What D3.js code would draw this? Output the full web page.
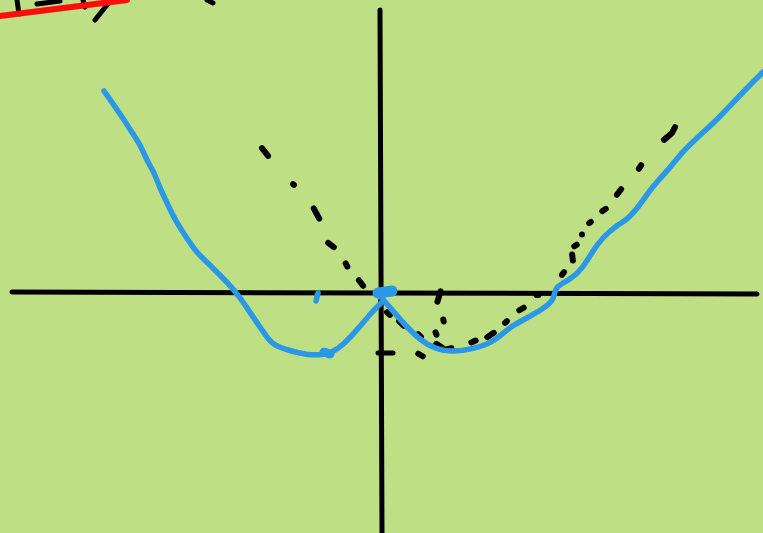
<!DOCTYPE html>
<html>
<head>
<meta charset="utf-8">
<script src="https://cdn.jsdelivr.net/npm/d3@7"></script>
<style>
  html, body { margin: 0; padding: 0; background: #bfdf85; }
  svg { display: block; }
</style>
</head>
<body>
<svg id="chart"></svg>
<script>
// values are offsets from the origin of the sketched axes (one tick = 60 units)
const xAxisEnds = [[-368, 0], [377, -2]];
const yAxisEnds = [[0, 282], [2, -241]];

const blueLeft = [[-276,201],[-257,174],[-247,158],[-239,146],[-234,133],[-226,120],[-221,106],[-212,87],[-205,72],[-190,49],[-183,39],[-168,25],[-153,10],[-140,-5],[-127,-25],[-112,-47],[-106,-53],[-93,-58],[-73,-63],[-57,-63],[-47,-60],[-37,-53],[-22,-37],[-10,-22],[2,-10]];
const blueRight = [[0,-4],[12,-18],[25,-33],[40,-48],[55,-57],[73,-60],[93,-57],[113,-50],[122,-42],[132,-34],[145,-27],[163,-17],[175,-7],[174,5],[190,12],[203,24],[212,40],[223,55],[237,67],[247,72],[260,87],[272,105],[290,124],[303,141],[320,157],[337,172],[362,199],[383,220]];
const blueMarks = [[[-62,-1],[-64,-9]], [[-56,-60],[-50,-62]]];
const blueBlob = [[-2,-1],[12,1]];

const dashes = [
  [[-119,145],[-111,135]], [[-88,109],[-85,106]], [[-67,85],[-60,72]], [[-53,50],[-45,44]],
  [[-35,30],[-32,24]], [[-22,13],[-16,5]], [[0,-8],[3,-10]], [[6,-19],[11,-24]],
  [[18,-28],[25,-35]], [[37,-41],[42,-46]], [[55,-51],[63,-56]], [[63,-58],[73,-56]],
  [[90,-51],[97,-48]], [[106,-46],[115,-40]], [[37,-61],[44,-65]], [[55,-39],[57,-44]], [[63,-26],[64,-31]],
  [[61,2],[57,-11]], [[124,-32],[128,-28]], [[138,-19],[145,-15]], [[155,-3],[160,-3]],
  [[181,16],[185,21]], [[192,39],[193,30]], [[193,45],[198,48]], [[202,56],[202,59]],
  [[208,68],[212,71]], [[221,80],[227,84]], [[236,96],[242,104]], [[258,122],[262,128]],
  [[283,151],[292,159],[296,166]]
];
const yTick = [[-2,-61],[13,-61]];

const redLine = [[-380,276],[-253,292]];
const topScraps = [
  [[-363,292],[-361,278]], [[-343,288],[-320,291]], [[-297,292],[-295,285]],
  [[-269,292],[-285,272]], [[-173,292],[-167,289]]
];

const width = 763, height = 533;

const x = d3.scaleLinear().domain([-380, 383]).range([0, width]);
const y = d3.scaleLinear().domain([292, -241]).range([0, height]);

const svg = d3.select('#chart').attr('width', width).attr('height', height);

svg.append('rect')
  .attr('width', width)
  .attr('height', height)
  .attr('fill', '#bfdf85');

// slight softening, the reference is an enlarged screenshot
svg.append('defs').append('filter')
  .attr('id', 'soft')
  .append('feGaussianBlur')
  .attr('stdDeviation', 0.7);

const chart = svg.append('g').attr('filter', 'url(#soft)');

const straight = d3.line().x(d => x(d[0])).y(d => y(d[1]));
const smooth = d3.line().x(d => x(d[0])).y(d => y(d[1])).curve(d3.curveBasis);

const stroke = (pts, color, w, gen = straight) =>
  chart.append('path')
    .attr('d', gen(pts))
    .attr('fill', 'none')
    .attr('stroke', color)
    .attr('stroke-width', w)
    .attr('stroke-linecap', 'round')
    .attr('stroke-linejoin', 'round');

// Round caps add length, so pull the ends of a dash in a little
const trim = (pts, t = 1.5) => {
  const [a, b] = [pts[0], pts[pts.length - 1]];
  const len = Math.hypot(b[0] - a[0], b[1] - a[1]) || 1;
  const ux = (b[0] - a[0]) / len, uy = (b[1] - a[1]) / len;
  const out = pts.map(p => p.slice());
  out[0] = [a[0] + ux * t, a[1] + uy * t];
  out[out.length - 1] = [b[0] - ux * t, b[1] - uy * t];
  return out;
};

// Scraps of handwriting cut off at the top
topScraps.forEach(s => stroke(s, '#000', 5));
stroke(redLine, '#fa0a0a', 6);

// Axes
stroke(xAxisEnds, '#000', 5);
stroke(yAxisEnds, '#000', 5);
stroke(yTick, '#000', 5);

// Dashed curve
dashes.forEach(s => stroke(trim(s), '#000', 6));

// Blue curve
stroke(blueLeft, '#2b98e6', 5.5, smooth);
stroke(blueRight, '#2b98e6', 5.5, smooth);
stroke(blueMarks[0], '#2b98e6', 5.5);
stroke(blueMarks[1], '#2b98e6', 9);
stroke(blueBlob, '#2b98e6', 11);
</script>
</body>
</html>
